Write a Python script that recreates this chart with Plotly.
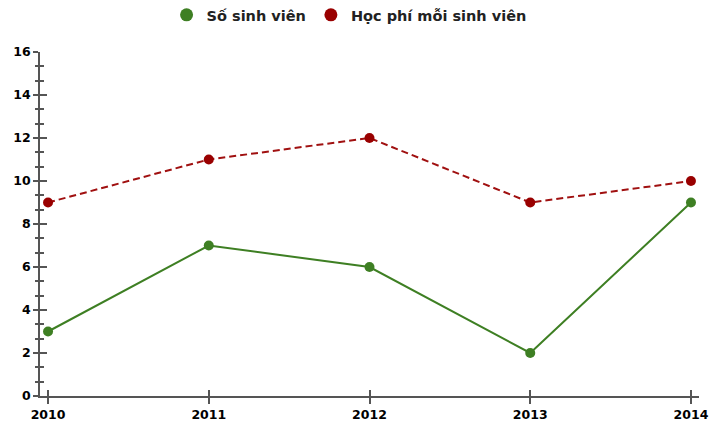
import plotly.graph_objects as go

years = [2010, 2011, 2012, 2013, 2014]
so_sinh_vien = [3, 7, 6, 2, 9]
hoc_phi = [9, 11, 12, 9, 10]
y_ticks = [0, 2, 4, 6, 8, 10, 12, 14, 16]

green = "#3e7f23"
red = "#a01010"
axis_col = "#555555"
tickfont = dict(family="DejaVu Sans", size=12.5, color="#000000", weight="bold")

fig = go.Figure()
fig.add_trace(go.Scatter(x=years, y=so_sinh_vien, name="Số sinh viên", mode="lines+markers",
                         line=dict(color=green, width=2), marker=dict(color=green, size=10),
                         showlegend=False))
fig.add_trace(go.Scatter(x=years, y=hoc_phi, name="Học phí mỗi sinh viên", mode="lines+markers",
                         line=dict(color=red, width=2, dash="7px,4px"), marker=dict(color="#990000", size=10),
                         showlegend=False))
# legend-only entries (circle symbols only)
fig.add_trace(go.Scatter(x=[None], y=[None], name="Số sinh viên", mode="markers",
                         marker=dict(color=green, size=13)))
fig.add_trace(go.Scatter(x=[None], y=[None], name="Học phí mỗi sinh viên", mode="markers",
                         marker=dict(color="#990000", size=13)))
# invisible trace to anchor overlay axes
fig.add_trace(go.Scatter(x=years, y=hoc_phi, xaxis="x2", yaxis="y2", mode="markers",
                         marker=dict(opacity=0), showlegend=False, hoverinfo="skip"))

xr = [2009.95, 2014.05]
yr = [0, 16]
fig.update_layout(
    width=711, height=427,
    margin=dict(l=40, r=12, t=52, b=31),
    plot_bgcolor="white", paper_bgcolor="white",
    legend=dict(orientation="h", x=0.469, xanchor="center", y=0.965, yanchor="middle",
                yref="container", font=dict(family="DejaVu Sans", size=14.5, color="#222222", weight="bold"),
                itemwidth=30),
    xaxis=dict(range=xr, tickvals=years, ticktext=[str(y) for y in years], showgrid=False,
               zeroline=False, showline=True, linecolor=axis_col, linewidth=1.5,
               ticks="outside", ticklen=6, tickcolor=axis_col, tickwidth=1.5,
               tickfont=tickfont, automargin=False, ticklabeloverflow="allow"),
    yaxis=dict(range=yr, tickvals=y_ticks, showgrid=False, zeroline=False,
               showline=True, linecolor=axis_col, linewidth=1.5,
               ticks="outside", ticklen=5, tickcolor=axis_col, tickwidth=1.5,
               tickfont=tickfont, automargin=False, ticklabeloverflow="allow",
               minor=dict(tick0=0, dtick=2/3, ticks="outside", ticklen=3, tickcolor=axis_col, tickwidth=1.5)),
    xaxis2=dict(range=xr, overlaying="x", tickvals=years, showticklabels=False, showgrid=False,
                zeroline=False, ticks="inside", ticklen=6, tickcolor=axis_col, tickwidth=1.5, side="bottom",
                automargin=False),
    yaxis2=dict(range=yr, overlaying="y", tickvals=y_ticks, showticklabels=False, showgrid=False,
                zeroline=False, ticks="inside", ticklen=7, tickcolor=axis_col, tickwidth=1.5, side="left",
                automargin=False,
                minor=dict(tick0=0, dtick=2/3, ticks="inside", ticklen=4, tickcolor=axis_col, tickwidth=1.5)),
)
fig.write_html("out.html", config={"displayModeBar": False},
               post_script="document.body.style.margin='0';document.body.style.overflow='hidden';")
